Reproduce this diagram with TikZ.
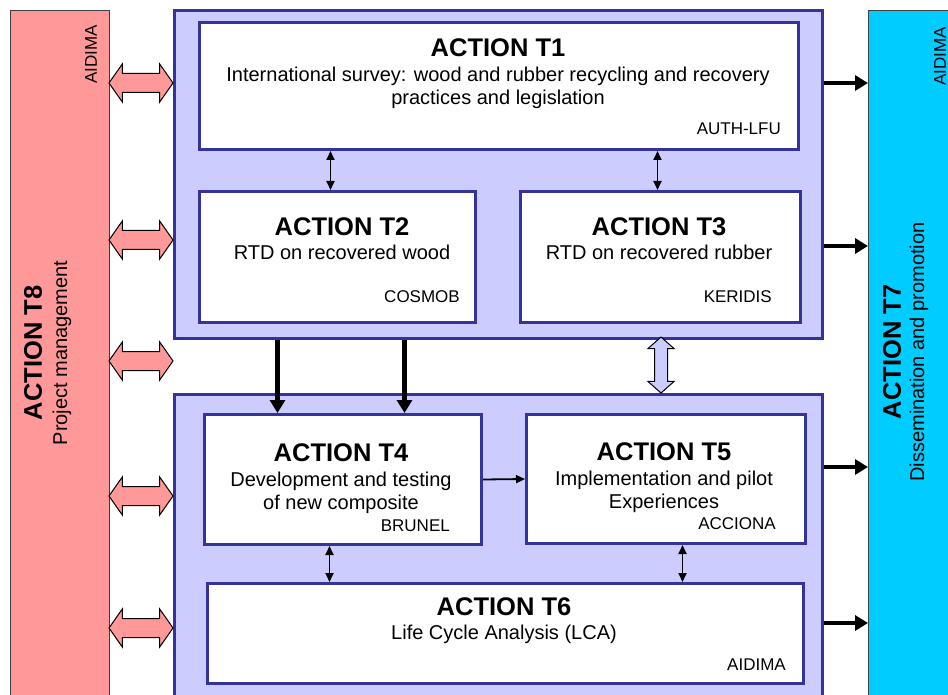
\documentclass[tikz,border=0pt]{standalone}
\usepackage{fontspec}
\setmainfont{Liberation Sans}
\usetikzlibrary{arrows.meta,shapes.arrows,positioning}

\definecolor{panelfill}{HTML}{CCCCFF}
\definecolor{panelline}{HTML}{333399}
\definecolor{mgmtfill}{HTML}{FF9999}
\definecolor{dissfill}{HTML}{00CCFF}

\begin{document}
\begin{tikzpicture}[x=1pt,y=-1pt,
	panel/.style={draw=panelline,line width=3pt,fill=panelfill,minimum width=648pt,anchor=north west,inner sep=0},
	actbox/.style={draw=panelline,line width=3pt,fill=white,anchor=north west,inner sep=0},
	bar/.style={draw=black!75,line width=1pt,anchor=north west,inner sep=0},
	ttl/.style={font=\fontsize{25.5}{30}\selectfont\bfseries,anchor=base,inner sep=0},
	txt/.style={font=\fontsize{20}{23}\selectfont,align=center,inner sep=0},
	who/.style={font=\fontsize{17}{19}\selectfont,anchor=base east,inner sep=0},
	link/.style={line width=1.8pt,{Triangle[length=9pt,width=8pt]}-{Triangle[length=9pt,width=8pt]}},
	onelink/.style={line width=1.8pt,-{Triangle[length=9pt,width=8pt]}},
	feed/.style={line width=4pt,-{Triangle[length=13pt,width=15pt]}},
	ctlarrow/.style={double arrow,draw=black,line width=1pt,fill=mgmtfill,inner sep=0,
		text height=9pt,text depth=9pt,minimum height=64pt,
		double arrow head extend=9.5pt,double arrow tip angle=110},
	syncarrow/.style={double arrow,draw=black,line width=1pt,fill=panelfill,inner sep=0,rotate=90,
		text height=6pt,text depth=6pt,minimum height=56pt,
		double arrow head extend=6.5pt,double arrow tip angle=97}]
\useasboundingbox (0,0) rectangle (948,695);

% side bars
\node[bar,fill=mgmtfill,minimum width=99pt,minimum height=700pt] (mgmt) at (10,10) {};
\node[bar,fill=dissfill,minimum width=100pt,minimum height=700pt] (diss) at (868,10) {};
\node[ttl,rotate=90,anchor=center] (t8ttl) at (33,353) {ACTION T8};
\node[txt,rotate=90] (t8txt) at (62,353) {Project management};
\node[who,rotate=90,anchor=east] (t8who) at (91,25) {AIDIMA};
\node[ttl,rotate=90,anchor=center] (t7ttl) at (892,352) {ACTION T7};
\node[txt,rotate=90] (t7txt) at (919,352) {Dissemination and promotion};
\node[who,rotate=90,anchor=east] (t7who) at (940,27) {AIDIMA};

% work packages
\node[panel,minimum height=328pt] (upper) at (173,9) {};
\node[panel,minimum height=320pt] (lower) at (173,393) {};
\node[actbox,minimum width=599pt,minimum height=127pt] (t1) at (198,21) {};
\node[actbox,minimum width=276pt,minimum height=131pt] (t2) at (198,190) {};
\node[actbox,minimum width=280pt,minimum height=131pt] (t3) at (519,190) {};
\node[actbox,minimum width=277pt,minimum height=130pt] (t4) at (203,413) {};
\node[actbox,minimum width=279pt,minimum height=129pt] (t5) at (525,413) {};
\node[actbox,minimum width=596pt,minimum height=100pt] (t6) at (206,582) {};

\node[ttl] (t1ttl) at (498,57) {ACTION T1};
\node[txt] (t1txt) at (498,87.5) {International survey: wood and rubber recycling and recovery\\practices and legislation};
\node[who] (t1who) at (781,135) {AUTH-LFU};
\node[ttl] (t2ttl) at (342,236) {ACTION T2};
\node[txt,anchor=base] (t2txt) at (342,260) {RTD on recovered wood};
\node[who] (t2who) at (460,302) {COSMOB};
\node[ttl] (t3ttl) at (659,236) {ACTION T3};
\node[txt,anchor=base] (t3txt) at (659,260) {RTD on recovered rubber};
\node[who] (t3who) at (772,302) {KERIDIS};
\node[ttl] (t4ttl) at (341,461) {ACTION T4};
\node[txt] (t4txt) at (341,492.5) {Development and testing\\of new composite};
\node[who] (t4who) at (450,531) {BRUNEL};
\node[ttl] (t5ttl) at (664,460) {ACTION T5};
\node[txt] (t5txt) at (664,491.5) {Implementation and pilot\\Experiences};
\node[who] (t5who) at (776,529) {ACCIONA};
\node[ttl] (t6ttl) at (504,615) {ACTION T6};
\node[txt,anchor=base] (t6txt) at (504,639) {Life Cycle Analysis (LCA)};
\node[who] (t6who) at (786,670) {AIDIMA};

% links
\draw[link] ([xshift=-7pt]t2.north) -- ([xshift=-7pt]t2.north |- t1.south);
\draw[link] ([xshift=-3pt]t3.north) -- ([xshift=-3pt]t3.north |- t1.south);
\draw[feed,line width=5pt] ([xshift=-65.5pt]t4.north |- upper.south) -- ([xshift=-65.5pt]t4.north);
\draw[feed,line width=5pt] ([xshift=61.5pt]t4.north |- upper.south) -- ([xshift=61.5pt]t4.north);
\draw[onelink] (t4.east) -- (t5.west);
\draw[link] ([xshift=-13.5pt]t4.south) -- ([xshift=-13.5pt]t4.south |- t6.north);
\draw[link] ([xshift=16.5pt]t5.south) -- ([xshift=16.5pt]t5.south |- t6.north);
\node[syncarrow] (sync) at (661,365) {};
\foreach \y [count=\i] in {83,240,361,496,628}
	\node[ctlarrow] (ctl\i) at (141,\y) {};
\foreach \p/\y in {upper/83,upper/246,lower/467,lower/623}
	\draw[feed] (\p.east |- 0,\y) -- (diss.west |- 0,\y);
\end{tikzpicture}
\end{document}
